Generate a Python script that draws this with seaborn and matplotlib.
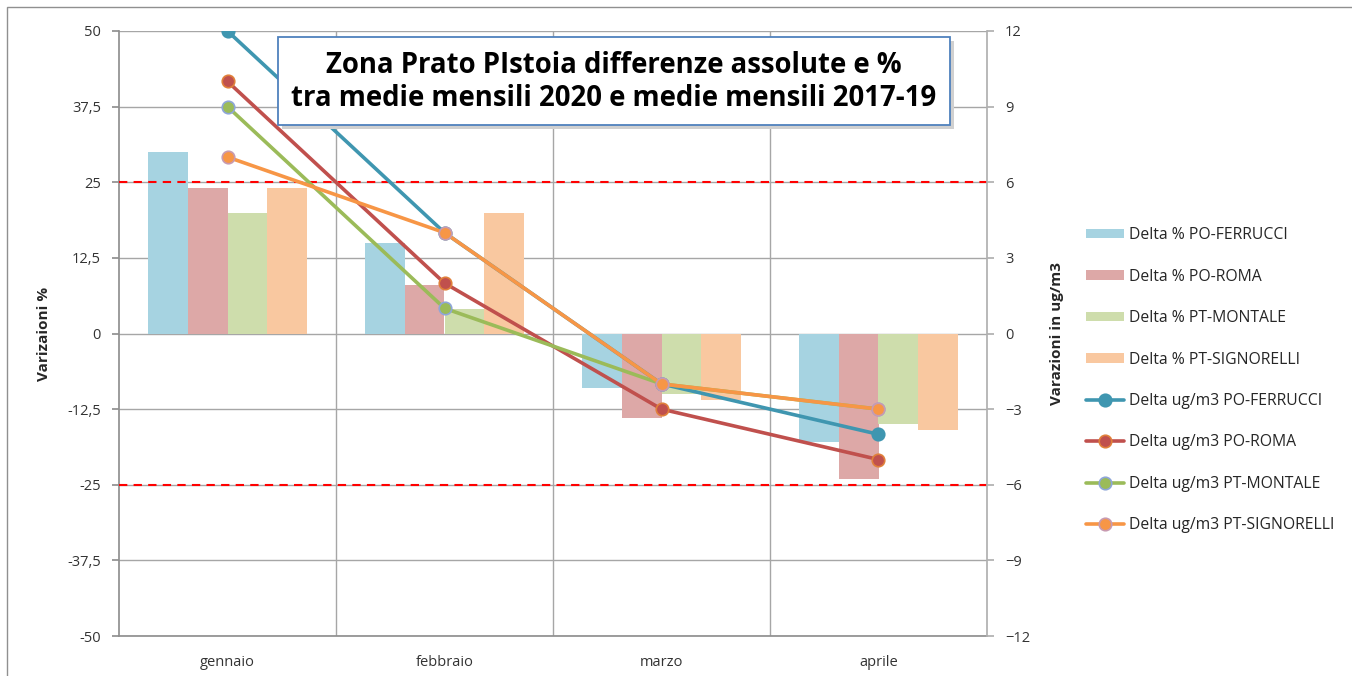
import matplotlib
matplotlib.use("Agg")
import matplotlib.pyplot as plt
import matplotlib.patches as mpatches
import matplotlib.ticker as mticker
import seaborn as sns
import pandas as pd
import numpy as np

months = ["gennaio", "febbraio", "marzo", "aprile"]
stations = ["PO-FERRUCCI", "PO-ROMA", "PT-MONTALE", "PT-SIGNORELLI"]

pct_ferrucci = [30, 15, -9, -18]
pct_roma = [24, 8, -14, -24]
pct_montale = [20, 4, -10, -15]
pct_signorelli = [24, 20, -11, -16]

ug_ferrucci = [12, 4, -2, -4]
ug_roma = [10, 2, -3, -5]
ug_montale = [9, 1, -2, -3]
ug_signorelli = [7, 4, -2, -3]

left_ticks = [-50, -37.5, -25, -12.5, 0, 12.5, 25, 37.5, 50]
right_ticks = [-12, -9, -6, -3, 0, 3, 6, 9, 12]
threshold = 25

bar_colors = ["#A6D3E1", "#DDA8A7", "#CEDDAC", "#F9C8A0"]
line_colors = ["#3F96B0", "#C0504D", "#9BBB59", "#F79646"]
edge_colors = ["#3F96B0", "#E0803A", "#8EA6D8", "#C89AB0"]

pct_vals = [pct_ferrucci, pct_roma, pct_montale, pct_signorelli]
ug_vals = [ug_ferrucci, ug_roma, ug_montale, ug_signorelli]

rows = []
for s, vals in zip(stations, pct_vals):
    for m, v in zip(months, vals):
        rows.append({"mese": m, "serie": "Delta % " + s, "valore": v})
df_pct = pd.DataFrame(rows)

sns.set_theme(style="white")
plt.rcParams["font.family"] = ["Open Sans", "DejaVu Sans"]

fig = plt.figure(figsize=(13.52, 6.76), dpi=100)
W, H = 1352, 676
ax = fig.add_axes([119 / W, 1 - 636 / H, (987 - 119) / W, (636 - 31) / H])

sns.barplot(data=df_pct, x="mese", y="valore", hue="serie", order=months,
            palette=bar_colors, width=0.73, ax=ax, saturation=1,
            linewidth=0, legend=True, zorder=2)

ax.set_ylim(-50, 50)
ax.set_yticks(left_ticks)
ax.yaxis.set_major_formatter(mticker.FuncFormatter(
    lambda v, p: (f"{v:g}").replace(".", ",")))
ax.set_xlim(-0.5, 3.5)
ax.set_xticks(range(4))
ax.set_xticklabels(months)
ax.set_xticks([0.5, 1.5, 2.5], minor=True)
ax.grid(axis="y", which="major", color="#A6A6A6", lw=1, zorder=0)
ax.grid(axis="x", which="minor", color="#A6A6A6", lw=1, zorder=0)
ax.grid(axis="x", which="major", visible=False)
ax.set_axisbelow(True)
for sp in ["top", "right"]:
    ax.spines[sp].set_visible(False)
for sp in ["left", "bottom"]:
    ax.spines[sp].set_color("#909090")
ax.tick_params(axis="y", which="major", left=True, length=5, color="#909090",
               labelsize=10.5, labelcolor="#333333", pad=8)
ax.tick_params(axis="x", which="both", bottom=False, length=0, labelsize=10.5,
               labelcolor="#333333", pad=14)
ax.set_xlabel("")
ax.set_ylabel("Varizaioni %", fontsize=11, fontweight="bold", labelpad=12)
for y in [threshold, -threshold]:
    ax.axhline(y, color="#FF0000", ls=(0, (4, 3)), lw=1.5, zorder=3)

bar_handles, bar_labels = ax.get_legend_handles_labels()
ax.get_legend().remove()

ax2 = ax.twinx()
ax2.set_position(ax.get_position())
for s, vals, c, ec in zip(stations, ug_vals, line_colors, edge_colors):
    d = pd.DataFrame({"x": np.arange(4), "y": vals})
    sns.lineplot(data=d, x="x", y="y", ax=ax2, color=c, lw=2.6,
                 marker="o", markersize=9, markeredgecolor=ec,
                 markeredgewidth=1.2, label="Delta ug/m3 " + s, zorder=4)
ax2.set_ylim(-12, 12)
ax2.set_yticks(right_ticks)
ax2.set_xlim(-0.5, 3.5)
ax2.grid(False)
for sp in ["top", "left", "bottom"]:
    ax2.spines[sp].set_visible(False)
ax2.spines["right"].set_color("#B0B0B0")
ax2.tick_params(axis="y", right=True, length=5, color="#B0B0B0",
                labelsize=10.5, labelcolor="#333333", pad=8)
ax2.set_ylabel("Varazioni in ug/m3", fontsize=11, fontweight="bold", labelpad=14)
ax2.set_xlabel("")
line_handles, line_labels = ax2.get_legend_handles_labels()
ax2.get_legend().remove()

fig.legend(bar_handles + line_handles, bar_labels + line_labels,
           loc="upper left", bbox_to_anchor=(1080 / W, 1 - 221 / H),
           frameon=False, fontsize=11.3, labelspacing=1.62,
           handlelength=2.4, handleheight=0.55, handletextpad=0.3,
           borderaxespad=0)

# title box with shadow
bx, by, bw, bh = 278, 37, 672, 88
shadow = mpatches.Rectangle(((bx + 4) / W, 1 - (by + bh + 4) / H), bw / W, bh / H,
                            transform=fig.transFigure, facecolor="#D0D0D0",
                            edgecolor="none", zorder=9)
box = mpatches.Rectangle((bx / W, 1 - (by + bh) / H), bw / W, bh / H,
                         transform=fig.transFigure, facecolor="white",
                         edgecolor="#4F81BD", lw=1.3, zorder=10)
fig.patches.extend([shadow, box])
fig.text((bx + bw / 2) / W, 1 - (by + bh / 2 + 1) / H,
         "Zona Prato PIstoia differenze assolute e %\ntra medie mensili 2020 e medie mensili 2017-19",
         ha="center", va="center", multialignment="center", fontsize=19.8,
         fontweight="bold", color="black", linespacing=1.2, zorder=11)

frame = mpatches.Rectangle((7 / W, -0.1), 1.2, 1 - 7 / H + 0.1,
                           transform=fig.transFigure, facecolor="none",
                           edgecolor="#909090", lw=1, zorder=0)
fig.patches.append(frame)

fig.savefig("out.png", dpi=100)
